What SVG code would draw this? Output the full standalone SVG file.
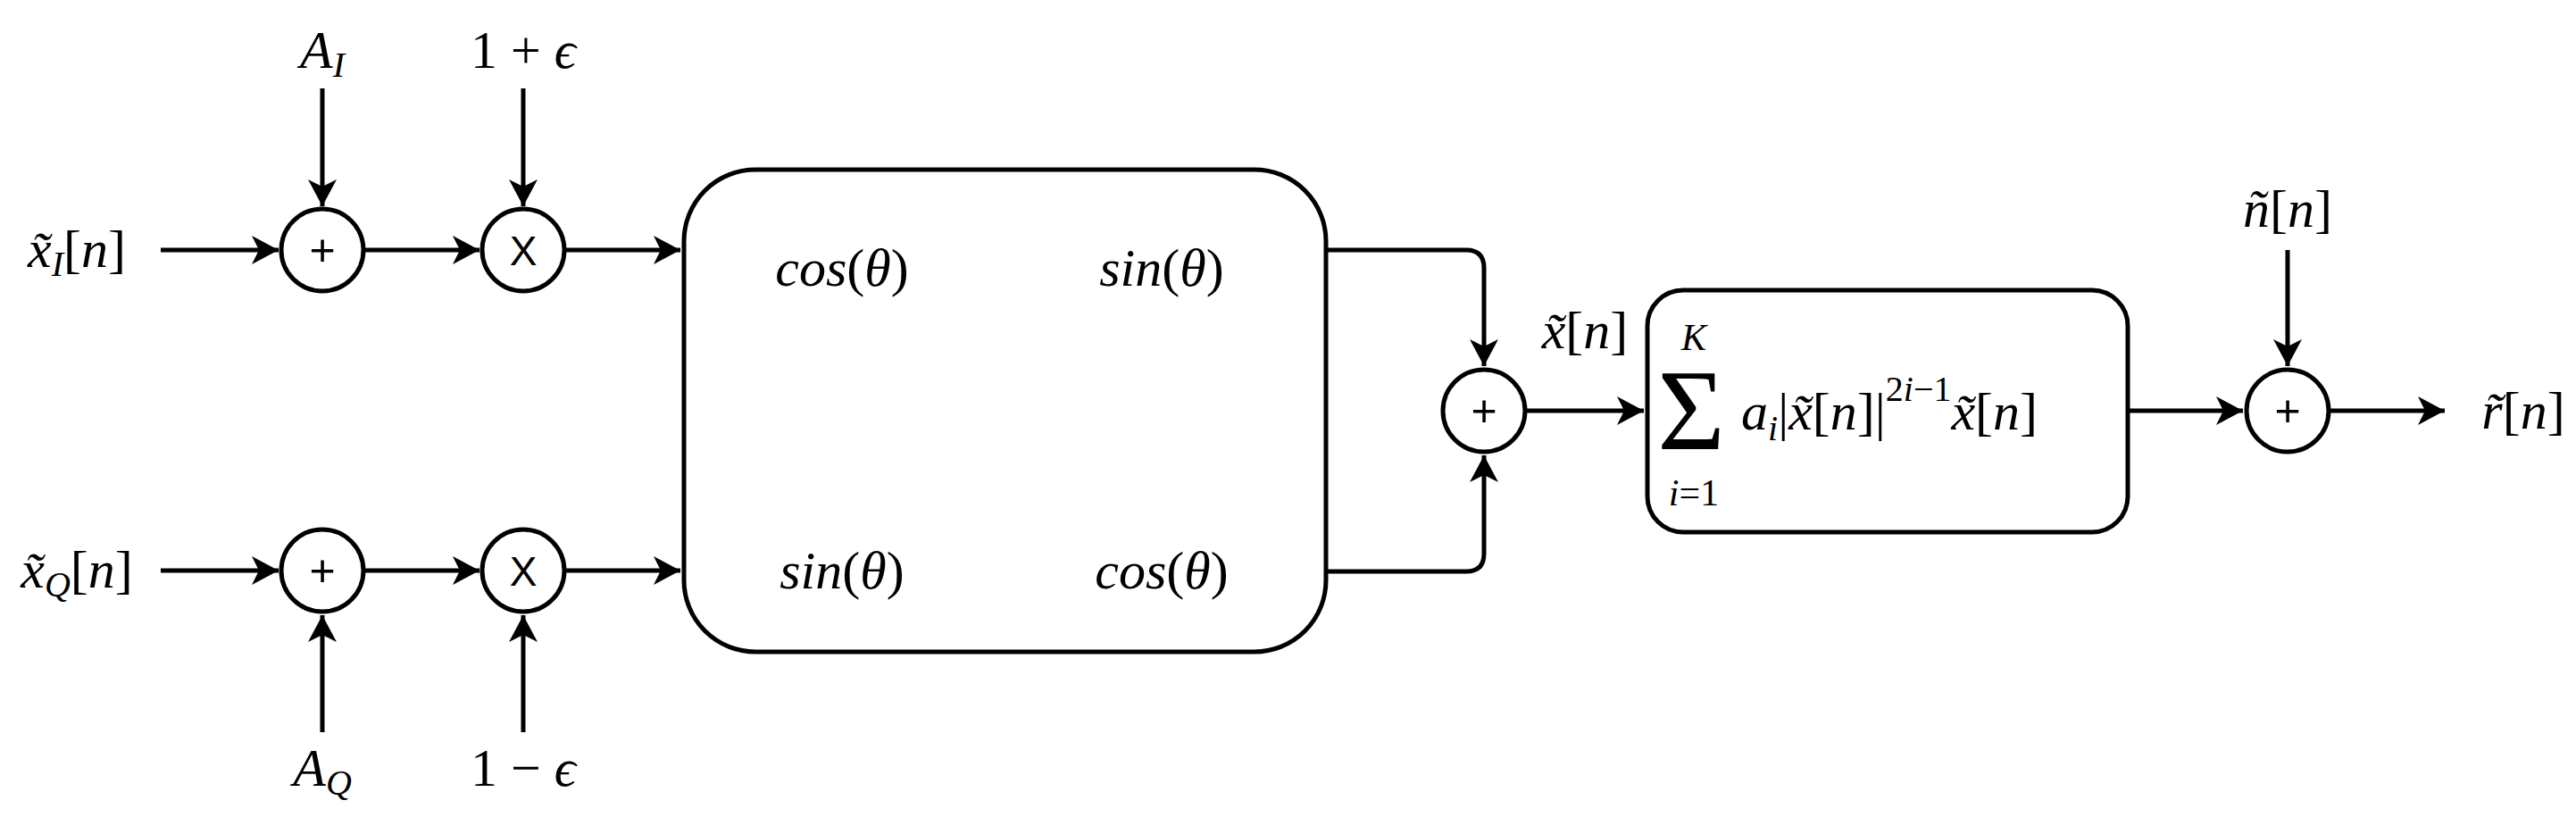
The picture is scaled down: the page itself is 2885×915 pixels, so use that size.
<svg xmlns="http://www.w3.org/2000/svg" width="2885" height="915" viewBox="0 0 2885 915">
<style>
.l{stroke:#000;stroke-width:5;fill:none}
.n{stroke:#000;stroke-width:5;fill:#fff}
.m{font-family:"Liberation Serif","DejaVu Serif",serif;font-style:italic;fill:#000}
.r{font-family:"Liberation Serif","DejaVu Serif",serif;font-style:normal;fill:#000}
.s{font-family:"Liberation Sans",sans-serif;fill:#000;text-anchor:middle}
text{font-size:60px}
</style>
<defs>
<marker id="a" markerUnits="userSpaceOnUse" markerWidth="34" markerHeight="34" refX="30" refY="16" orient="auto">
<path d="M0,0 L30,16 L0,32 L8,16 z" fill="#000"/>
</marker>
</defs>
<g id="connectors">
<path class="l" d="M180,280 H312" marker-end="url(#a)"/>
<path class="l" d="M407,280 H537" marker-end="url(#a)"/>
<path class="l" d="M632,280 H762" marker-end="url(#a)"/>
<path class="l" d="M180,639 H312" marker-end="url(#a)"/>
<path class="l" d="M407,639 H537" marker-end="url(#a)"/>
<path class="l" d="M632,639 H762" marker-end="url(#a)"/>
<path class="l" d="M361,99 V231" marker-end="url(#a)"/>
<path class="l" d="M586,99 V231" marker-end="url(#a)"/>
<path class="l" d="M361,820 V689" marker-end="url(#a)"/>
<path class="l" d="M586,820 V689" marker-end="url(#a)"/>
<path class="l" d="M1485,280 H1642 Q1662,280 1662,300 V410" marker-end="url(#a)"/>
<path class="l" d="M1485,640 H1642 Q1662,640 1662,620 V510" marker-end="url(#a)"/>
<path class="l" d="M1708,460 H1841" marker-end="url(#a)"/>
<path class="l" d="M2383,460 H2512" marker-end="url(#a)"/>
<path class="l" d="M2562,280 V410" marker-end="url(#a)"/>
<path class="l" d="M2608,460 H2738" marker-end="url(#a)"/>
</g>
<g id="add1"><circle class="n" cx="361" cy="280" r="46"/><text class="s" x="361" y="297" style="font-size:50px">+</text></g>
<g id="mul1"><circle class="n" cx="586" cy="280" r="46"/><text class="s" x="586" y="297" style="font-size:46px">X</text></g>
<g id="add2"><circle class="n" cx="361" cy="639" r="46"/><text class="s" x="361" y="656" style="font-size:50px">+</text></g>
<g id="mul2"><circle class="n" cx="586" cy="639" r="46"/><text class="s" x="586" y="656" style="font-size:46px">X</text></g>
<g id="rot"><rect class="n" x="766" y="190" width="719" height="540" rx="80"/>
<text class="m" x="943" y="320" text-anchor="middle">cos<tspan class="r">(</tspan>θ<tspan class="r">)</tspan></text>
<text class="m" x="1301" y="320" text-anchor="middle">sin<tspan class="r">(</tspan>θ<tspan class="r">)</tspan></text>
<text class="m" x="943" y="659" text-anchor="middle">sin<tspan class="r">(</tspan>θ<tspan class="r">)</tspan></text>
<text class="m" x="1301" y="659" text-anchor="middle">cos<tspan class="r">(</tspan>θ<tspan class="r">)</tspan></text>
</g>
<g id="addc"><circle class="n" cx="1662" cy="460" r="46"/><text class="s" x="1662" y="477" style="font-size:50px">+</text></g>
<g id="nl"><rect class="n" x="1845" y="325" width="538" height="271" rx="40"/>
<text class="m" x="1897" y="392" text-anchor="middle" style="font-size:42px">K</text>
<text class="r" x="1894" y="503" text-anchor="middle" style="font-size:130px">Σ</text>
<text class="m" x="1897" y="566" text-anchor="middle" style="font-size:42px">i<tspan class="r">=1</tspan></text>
<text class="m" x="1950" y="481">a<tspan style="font-size:40px" dy="12">i</tspan><tspan class="r" dy="-12">|</tspan>x̃<tspan class="r">[</tspan>n<tspan class="r">]</tspan><tspan class="r">|</tspan><tspan class="r" style="font-size:40px" dy="-32">2</tspan><tspan style="font-size:40px">i</tspan><tspan class="r" style="font-size:40px">−1</tspan><tspan dy="32">x̃</tspan><tspan class="r">[</tspan>n<tspan class="r">]</tspan></text>
</g>
<g id="addn"><circle class="n" cx="2562" cy="460" r="46"/><text class="s" x="2562" y="477" style="font-size:50px">+</text></g>
<g id="labels">
<text class="m" x="86" y="299" text-anchor="middle">x̃<tspan style="font-size:40px" dy="10">I</tspan><tspan class="r" dy="-10">[</tspan>n<tspan class="r">]</tspan></text>
<text class="m" x="86" y="658" text-anchor="middle">x̃<tspan style="font-size:40px" dy="10">Q</tspan><tspan class="r" dy="-10">[</tspan>n<tspan class="r">]</tspan></text>
<text class="m" x="361" y="76" text-anchor="middle">A<tspan style="font-size:40px" dy="10">I</tspan></text>
<text class="r" x="586" y="76" text-anchor="middle">1 + <tspan class="m">ϵ</tspan></text>
<text class="m" x="361" y="880" text-anchor="middle">A<tspan style="font-size:40px" dy="10">Q</tspan></text>
<text class="r" x="586" y="880" text-anchor="middle">1 − <tspan class="m">ϵ</tspan></text>
<text class="m" x="1775" y="390" text-anchor="middle">x̃<tspan class="r">[</tspan>n<tspan class="r">]</tspan></text>
<text class="m" x="2562" y="254" text-anchor="middle">ñ<tspan class="r">[</tspan>n<tspan class="r">]</tspan></text>
<text class="m" x="2826" y="480" text-anchor="middle">r̃<tspan class="r">[</tspan>n<tspan class="r">]</tspan></text>
</g>
</svg>
